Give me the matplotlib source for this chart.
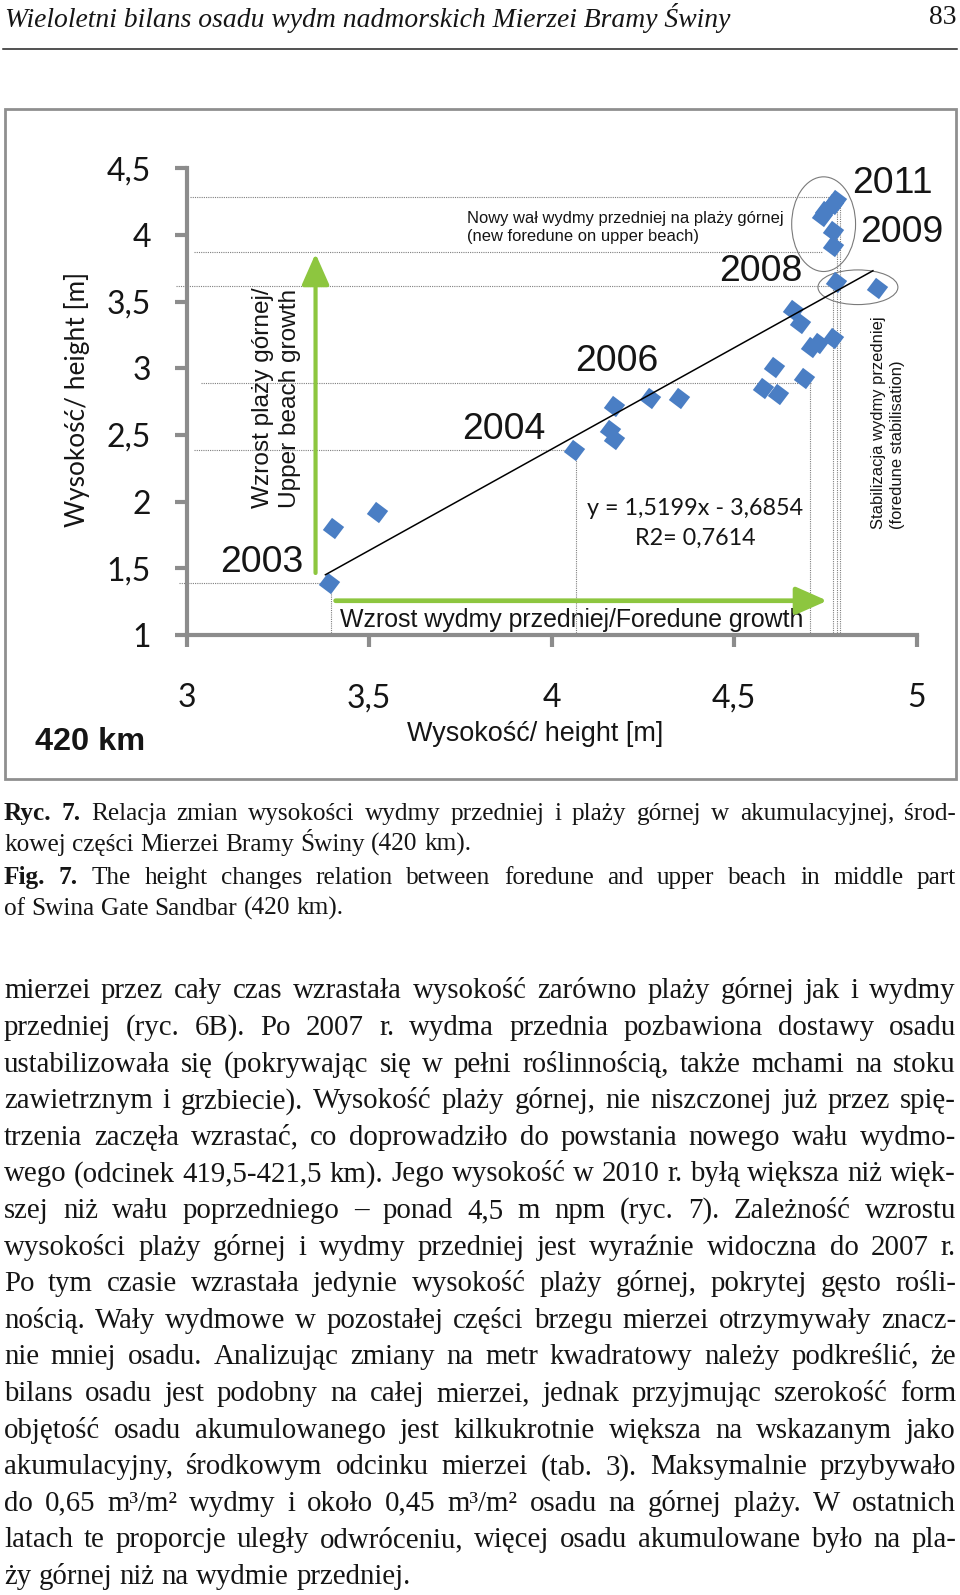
import matplotlib
matplotlib.use("Agg")
import matplotlib.pyplot as plt
from matplotlib.patches import Ellipse, Rectangle

# ---------------- data ----------------
foredune_h = [3.39, 3.40, 3.52, 4.06, 4.17, 4.16, 4.17, 4.27, 4.35, 4.58, 4.62, 4.61, 4.69,
              4.66, 4.68, 4.71, 4.73, 4.77, 4.78, 4.89, 4.77, 4.77, 4.74, 4.75, 4.77, 4.78]
beach_h = [1.39, 1.80, 1.92, 2.39, 2.72, 2.54, 2.47, 2.78, 2.78, 2.85, 2.81, 3.01, 2.93,
           3.44, 3.34, 3.16, 3.19, 3.23, 3.65, 3.60, 3.92, 4.03, 4.14, 4.18, 4.23, 4.26]
slope, intercept = 1.5199, -3.6854
fit_x = [3.38, 4.88]
xticks = [3, 3.5, 4, 4.5, 5]
xtick_labels = ["3", "3,5", "4", "4,5", "5"]
yticks = [1, 1.5, 2, 2.5, 3, 3.5, 4, 4.5]
ytick_labels = ["1", "1,5", "2", "2,5", "3", "3,5", "4", "4,5"]
years = ["2003", "2004", "2006", "2008", "2011", "2009"]
# dotted reference lines (value, from, to)
hline_y = [4.285, 3.87, 3.62, 2.89, 2.39, 1.39]
hline_x0 = [3.01, 3.02, 2.97, 3.04, 3.02, 2.98]
hline_x1 = [4.79, 4.74, 4.78, 4.71, 4.06, 3.39]
vline_x = [3.395, 4.067, 4.708, 4.772, 4.782, 4.79]
vline_y1 = [1.39, 2.39, 2.89, 3.65, 4.26, 4.23]

header = "Wieloletni bilans osadu wydm nadmorskich Mierzei Bramy Świny"
page_no = "83"
caption_lines = [
    "Ryc. 7. Relacja zmian wysokości wydmy przedniej i plaży górnej w akumulacyjnej, środ-",
    "kowej części Mierzei Bramy Świny (420 km).",
    "Fig. 7. The height changes relation between foredune and  upper beach in middle part",
    "of Swina Gate Sandbar (420 km).",
]
body_lines = [
    "mierzei przez cały czas wzrastała wysokość zarówno plaży górnej jak i wydmy",
    "przedniej (ryc. 6B). Po 2007 r. wydma przednia pozbawiona dostawy osadu",
    "ustabilizowała się (pokrywając się w pełni roślinnością, także mchami na stoku",
    "zawietrznym i grzbiecie). Wysokość plaży górnej, nie niszczonej już przez spię-",
    "trzenia zaczęła wzrastać, co doprowadziło do powstania nowego wału wydmo-",
    "wego (odcinek 419,5-421,5 km). Jego wysokość w 2010 r. byłą większa niż więk-",
    "szej niż wału poprzedniego – ponad 4,5 m npm (ryc. 7). Zależność wzrostu",
    "wysokości plaży górnej i wydmy przedniej jest wyraźnie widoczna do 2007 r.",
    "Po tym czasie wzrastała jedynie wysokość plaży górnej, pokrytej gęsto rośli-",
    "nością. Wały wydmowe w pozostałej części brzegu mierzei otrzymywały znacz-",
    "nie mniej osadu. Analizując zmiany na metr kwadratowy należy podkreślić, że",
    "bilans osadu jest podobny na całej mierzei, jednak przyjmując szerokość form",
    "objętość osadu akumulowanego jest kilkukrotnie większa na wskazanym jako",
    "akumulacyjny, środkowym odcinku mierzei (tab. 3). Maksymalnie przybywało",
    "do 0,65 m³/m² wydmy i około 0,45 m³/m² osadu na górnej plaży. W ostatnich",
    "latach te proporcje uległy odwróceniu, więcej osadu akumulowane było na pla-",
    "ży górnej niż na wydmie przedniej.",
]

# ---------------- styles ----------------
W, H = 960, 1595
SANS = ["Liberation Sans", "DejaVu Sans"]
CAL = ["Lato", "DejaVu Sans"]
SERIF = ["Liberation Serif", "DejaVu Serif"]
GREEN = "#8dc63f"
BLUE = "#4a7ec4"
GRAY = "#8c8c8c"
TXT = "#151515"

fig = plt.figure(figsize=(9.6, 15.95), dpi=100)
page = fig.add_axes([0, 0, 1, 1])
page.set_xlim(0, W)
page.set_ylim(H, 0)
page.axis("off")
R = fig.canvas.get_renderer()


def width_of(t):
    return t.get_window_extent(renderer=R).width


def fit_text(x, y, s, target, family, rotation=0, **kw):
    t = page.text(x, y, s, fontsize=20, family=family, color=TXT, **kw)
    t.set_fontsize(20 * target / width_of(t))
    t.set_rotation(rotation)
    return t


# ---------------- header ----------------
ht = fit_text(5, 18, header, 725, SERIF, style="italic", ha="left", va="center")
page.text(956, 18, page_no, fontsize=ht.get_fontsize(), family=SERIF, color=TXT,
          ha="right", va="center")
page.plot([3, 957], [49, 49], color="#222222", lw=1.1)

# chart frame
page.add_patch(Rectangle((5, 108.5), 951, 670.5, fill=False, ec="#8f8f8f", lw=2.0))

# ---------------- data axes ----------------
L, Rr, T, B = 186.7, 916.7, 168.3, 635.0
ax = fig.add_axes([L / W, 1 - B / H, (Rr - L) / W, (B - T) / H])
ax.set_zorder(2)
ax.patch.set_alpha(0)
ax.set_xlim(3, 5)
ax.set_ylim(1, 4.5)
for s in ("top", "right"):
    ax.spines[s].set_visible(False)
for s in ("left", "bottom"):
    ax.spines[s].set_color(GRAY)
    ax.spines[s].set_linewidth(3)
ax.set_xticks(xticks)
ax.set_xticklabels(xtick_labels, family=CAL, fontsize=23, color=TXT)
ax.set_yticks(yticks)
ax.set_yticklabels(ytick_labels, family=CAL, fontsize=23, color=TXT)
ax.tick_params(axis="both", direction="out", length=8.6, width=3, color=GRAY)
ax.tick_params(axis="x", pad=26)
ax.tick_params(axis="y", pad=17)

# dotted reference lines
for yv, x0, x1 in zip(hline_y, hline_x0, hline_x1):
    ax.plot([x0, x1], [yv, yv], ls=(0, (1, 1)), color="#7f7f7f", lw=0.8, clip_on=False, zorder=1)
for xv, y1 in zip(vline_x, vline_y1):
    ax.plot([xv, xv], [1, y1], ls=(0, (1, 1)), color="#7f7f7f", lw=0.8, clip_on=False, zorder=1)

# green arrows
arrow_style = "-|>,head_length=0.95,head_width=0.42"
ax.annotate("", xy=(3.353, 3.86), xytext=(3.353, 1.465),
            arrowprops=dict(arrowstyle=arrow_style, color=GREEN, lw=3.0,
                            mutation_scale=20, shrinkA=0, shrinkB=0), zorder=2)
ax.annotate("", xy=(4.755, 1.257), xytext=(3.408, 1.257),
            arrowprops=dict(arrowstyle=arrow_style, color=GREEN, lw=3.4,
                            mutation_scale=20, shrinkA=0, shrinkB=0), zorder=2)

# ellipses
ax.add_patch(Ellipse((4.745, 4.081), 0.175, 0.71, fill=False, ec="#7a7a7a", lw=0.8, clip_on=False))
ax.add_patch(Ellipse((4.839, 3.608), 0.219, 0.26, fill=False, ec="#7a7a7a", lw=0.8, clip_on=False))

# points and fitted line
ax.plot(foredune_h, beach_h, ls="none", marker=(4, 0, 8), ms=15.5, color=BLUE, mew=0,
        clip_on=False, zorder=4)
ax.plot(fit_x, [slope * v + intercept for v in fit_x], color="black", lw=1.1,
        clip_on=False, zorder=5)

# ---------------- chart texts (page pixel coords) ----------------
yt = fit_text(261.7, 562.3, years[0], 83.3, SANS, ha="center", va="center")
fsy = yt.get_fontsize()
year_pos = [(504, 429.5), (616.5, 361.5), (761, 271.5), (892.5, 183.5), (901.5, 232.5)]
for lab, (xp, ypos) in zip(years[1:], year_pos):
    page.text(xp, ypos, lab, fontsize=fsy, family=SANS, color=TXT, ha="center", va="center")

nt = fit_text(466.7, 218.3, "Nowy wał wydmy przedniej na plaży górnej", 315, SANS,
              ha="left", va="center")
page.text(466.7, 236.9, "(new foredune on upper beach)", fontsize=nt.get_fontsize(),
          family=SANS, color=TXT, ha="left", va="center")

et = fit_text(695, 508.3, "y = 1,5199x - 3,6854", 216.7, CAL, ha="center", va="center")
page.text(695, 538.3, "R2= 0,7614", fontsize=et.get_fontsize(), family=CAL, color=TXT,
          ha="center", va="center")

fit_text(276.7, 397.5, "Wzrost plaży górnej/\nUpper beach growth", 221, SANS, rotation=90,
         ha="center", va="center", multialignment="left", linespacing=1.3)
fit_text(888.3, 422.5, "Stabilizacja wydmy przedniej\n(foredune stabilisation)", 211.6, SANS,
         rotation=90, ha="center", va="center", multialignment="left", linespacing=1.3)

fit_text(340, 620, "Wzrost wydmy przedniej/Foredune growth", 463, SANS, ha="left", va="center")
fit_text(535, 734, "Wysokość/ height [m]", 256, SANS, ha="center", va="center")
fit_text(76.7, 399.5, "Wysokość/ height [m]", 255, CAL, rotation=90, ha="center", va="center")
fit_text(35, 741.7, "420 km", 110, SANS, weight="bold", ha="left", va="center")


# ---------------- justified paragraph text ----------------
def natural_width(line, fs):
    t = page.text(0, 0, line, fontsize=fs, family=SERIF)
    w = width_of(t)
    t.remove()
    return w


def set_line(line, ybase, fs, x0, x1, justify, bold_n=0):
    words = line.split()
    items = []
    for i, wd in enumerate(words):
        t = page.text(0, ybase, wd, fontsize=fs, family=SERIF, color=TXT,
                      weight="bold" if i < bold_n else "normal", ha="left", va="baseline")
        items.append((t, width_of(t)))
    sp_t = page.text(0, 0, "a a", fontsize=fs, family=SERIF)
    sp2 = page.text(0, 0, "aa", fontsize=fs, family=SERIF)
    space = width_of(sp_t) - width_of(sp2)
    sp_t.remove()
    sp2.remove()
    total = sum(w for _, w in items)
    gap = (x1 - x0 - total) / (len(items) - 1) if (justify and len(items) > 1) else space
    x = x0
    for t, w in items:
        t.set_x(x)
        x += w + gap


X0, X1 = 4.0, 956.0
# caption
fs_c = 18.0 * 905 / natural_width(caption_lines[0], 18.0)
em_c = fs_c * 100 / 72
cap_centers = [813.5, 845.0, 877.6, 909.0]
for i, (ln, yc) in enumerate(zip(caption_lines, cap_centers)):
    bold_n = 2 if ln.startswith(("Ryc.", "Fig.")) else 0
    set_line(ln, yc + 0.24 * em_c, fs_c, X0, X1, justify=(i % 2 == 0), bold_n=bold_n)

# body
fs_b = 20.0 * 425 / natural_width(body_lines[-1], 20.0)
mx = max(natural_width(l, fs_b) for l in body_lines[:-1])
if mx > 946:
    fs_b *= 946 / mx
em_b = fs_b * 100 / 72
for i, ln in enumerate(body_lines):
    yc = 991.5 + 36.6 * i
    set_line(ln, yc + 0.24 * em_b, fs_b, X0, X1, justify=(i < len(body_lines) - 1))

fig.savefig("out.png", dpi=100, facecolor="white")
